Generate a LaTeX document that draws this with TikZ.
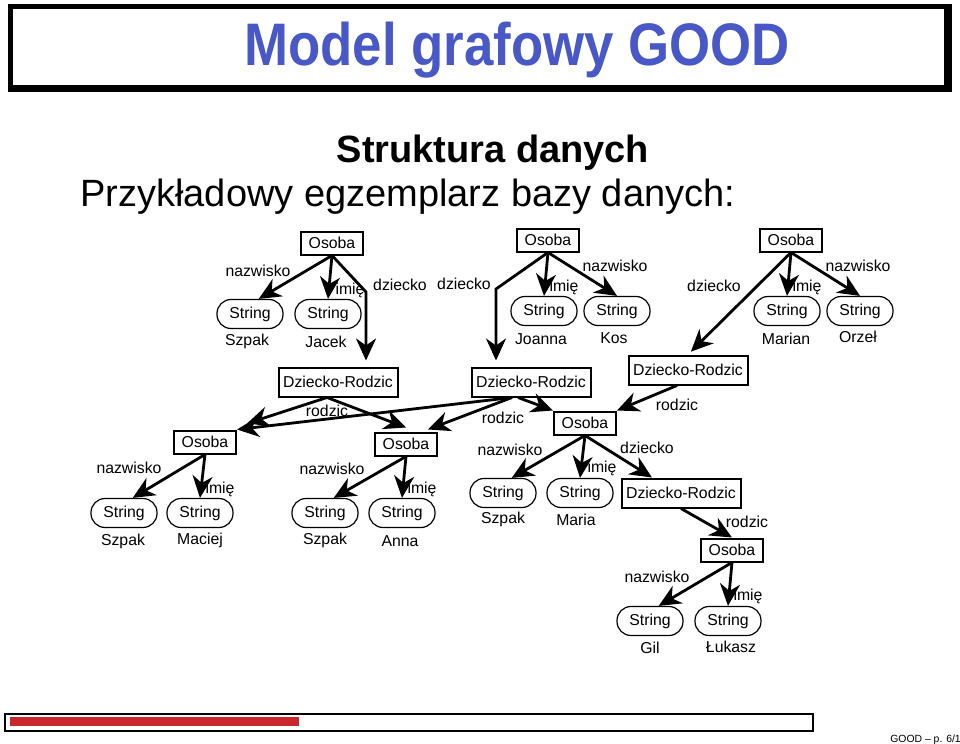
\documentclass[tikz,border=0pt]{standalone}
\usepackage{fontspec}
\setmainfont{Liberation Sans}
\usepackage{graphicx}
\usepackage{xcolor}
\usepackage{tikz}
\usetikzlibrary{arrows.meta,positioning,calc}
\definecolor{tytulblue}{RGB}{72,88,198}
\definecolor{pasekred}{RGB}{200,40,45}

\begin{document}
\begin{tikzpicture}[x=0.5pt,y=-0.5pt,
  klasa/.style={draw, line width=1pt, minimum width=31pt, minimum height=11.5pt, inner sep=1pt, font=\fontsize{7.9}{9}\selectfont},
  relacja/.style={klasa, minimum width=59.5pt, minimum height=14.5pt},
  typ/.style={draw, line width=0.6pt, rounded corners=7pt, minimum width=33pt, minimum height=14.5pt, inner sep=1pt, font=\fontsize{7.9}{9}\selectfont},
  etyk/.style={inner sep=0pt, font=\fontsize{7.9}{9}\selectfont},
  kraw/.style={line width=1.4pt, -{Stealth[length=11pt,width=10pt,inset=3.5pt]}}]
  \useasboundingbox (0,0) rectangle (960,744);

  % Title frame
  \fill[black] (8,4) rectangle (952,92);
  \fill[white] (13,9) rectangle (944,85);
  \node[anchor=base, inner sep=0pt, text=tytulblue, font=\fontsize{30}{36}\selectfont\bfseries] (tytul) at (517,65) {\scalebox{0.88}[1]{Model grafowy GOOD}};
  \node[anchor=base, inner sep=0pt, font=\fontsize{19}{23}\selectfont\bfseries] (naglowek) at (493,162) {Struktura danych};
  \node[anchor=base west, inner sep=0pt, font=\fontsize{19}{23}\selectfont] (podtytul) at (80,206) {Przykładowy egzemplarz bazy danych:};

  % Osoba (top left)
  \node[klasa] (osA) at (332,243) {Osoba};
  \node[typ] (stA1) at (250,314) {String};
  \node[typ] (stA2) at (328,314) {String};
  \node[etyk] (wA1) at (247,341) {Szpak};
  \node[etyk] (wA2) at (326,342) {Jacek};
  \node[etyk] (nA1) at (258,271) {nazwisko};
  \node[etyk] (nA2) at (350,290) {imię};
  \node[etyk] (nA3) at (400,285) {dziecko};

  % Osoba (top middle)
  \node[klasa] (osB) at (548,240) {Osoba};
  \node[typ] (stB1) at (544,311) {String};
  \node[typ] (stB2) at (617,311) {String};
  \node[etyk] (wB1) at (541,339) {Joanna};
  \node[etyk] (wB2) at (614,338) {Kos};
  \node[etyk] (nB1) at (464,284) {dziecko};
  \node[etyk] (nB2) at (564,287) {imię};
  \node[etyk] (nB3) at (615,266) {nazwisko};

  % Osoba (top right)
  \node[klasa] (osC) at (791,240) {Osoba};
  \node[typ] (stC1) at (787,311) {String};
  \node[typ] (stC2) at (860,311) {String};
  \node[etyk] (wC1) at (786,339) {Marian};
  \node[etyk] (wC2) at (858,337) {Orzeł};
  \node[etyk] (nC1) at (714,286) {dziecko};
  \node[etyk] (nC2) at (807,287) {imię};
  \node[etyk] (nC3) at (858,266) {nazwisko};

  % Dziecko-Rodzic
  \node[relacja] (drA) at (338,382) {Dziecko-Rodzic};
  \node[relacja] (drB) at (531,382) {Dziecko-Rodzic};
  \node[relacja] (drC) at (688,370) {Dziecko-Rodzic};
  \node[etyk] (rA) at (327,411) {rodzic};
  \node[etyk] (rB) at (503,418) {rodzic};
  \node[etyk] (rC) at (677,405) {rodzic};

  % Osoba (middle left)
  \node[klasa] (osD) at (205,442) {Osoba};
  \node[typ] (stD1) at (124,513) {String};
  \node[typ] (stD2) at (200,513) {String};
  \node[etyk] (wD1) at (123,541) {Szpak};
  \node[etyk] (wD2) at (200,540) {Maciej};
  \node[etyk] (nD1) at (129,468) {nazwisko};
  \node[etyk] (nD2) at (220,489) {imię};

  % Osoba (middle)
  \node[klasa] (osE) at (406,444) {Osoba};
  \node[typ] (stE1) at (325,513) {String};
  \node[typ] (stE2) at (402,513) {String};
  \node[etyk] (wE1) at (325,540) {Szpak};
  \node[etyk] (wE2) at (400,541) {Anna};
  \node[etyk] (nE1) at (332,469) {nazwisko};
  \node[etyk] (nE2) at (422,489) {imię};

  % Osoba (middle right)
  \node[klasa] (osF) at (585,423) {Osoba};
  \node[typ] (stF1) at (503,493) {String};
  \node[typ] (stF2) at (580,493) {String};
  \node[etyk] (wF1) at (503,519) {Szpak};
  \node[etyk] (wF2) at (576,520) {Maria};
  \node[etyk] (nF1) at (510,450) {nazwisko};
  \node[etyk] (nF2) at (602,468) {imię};
  \node[etyk] (nF3) at (647,448) {dziecko};
  \node[relacja] (drD) at (681,493) {Dziecko-Rodzic};
  \node[etyk] (rD) at (747,522) {rodzic};

  % Osoba (bottom)
  \node[klasa] (osG) at (732,550) {Osoba};
  \node[typ] (stG1) at (650,621) {String};
  \node[typ] (stG2) at (728,621) {String};
  \node[etyk] (wG1) at (650,648) {Gil};
  \node[etyk] (wG2) at (731,647) {Łukasz};
  \node[etyk] (nG1) at (657,577) {nazwisko};
  \node[etyk] (nG2) at (748,596) {imię};

  % bends of the dziecko edges
  \coordinate (bendA) at (366,292);
  \coordinate (bendB) at (496,289);

  % Edges
  \draw[kraw] (osA.south) -- (stA1.60);
  \draw[kraw] (osA.south) -- (stA2.north);
  \draw[kraw] (osA.south) -- (bendA) -- ([yshift=3pt]bendA |- drA.north);
  \draw[kraw] (osB.south) -- (stB1.north);
  \draw[kraw] (osB.south) -- (stB2.north);
  \draw[kraw] (osB.south) -- (bendB) -- ([yshift=3pt]bendB |- drB.north);
  \draw[kraw] (osC.south) -- (stC1.north);
  \draw[kraw] (osC.south) -- (stC2.north);
  \draw[kraw, shorten >=2pt] (osC.south) -- (drC.north);

  \draw[kraw] ([xshift=-5.5pt]drA.south) -- ([xshift=5pt,yshift=3pt]osD.north east);
  \draw[kraw] ([xshift=-5.5pt]drA.south) -- ([yshift=2pt]osE.north);
  \draw[kraw] ([xshift=-9.5pt]drB.south) -- (osD.north east);
  \draw[kraw] ([xshift=-9.5pt]drB.south) -- ([xshift=-5pt,yshift=1pt]osE.north east);
  \draw[kraw] ([xshift=-6.5pt]drB.south) -- (osF.north west);
  \draw[kraw] ([xshift=-5.5pt]drC.south) -- (osF.north east);

  \draw[kraw] (osD.south) -- (stD1.60);
  \draw[kraw] (osD.south) -- (stD2.north);
  \draw[kraw] (osE.south) -- (stE1.60);
  \draw[kraw] (osE.south) -- (stE2.north);
  \draw[kraw] (osF.south) -- (stF1.60);
  \draw[kraw] (osF.south) -- (stF2.north);
  \draw[kraw] (osF.south) -- ([xshift=-14.5pt]drD.north);
  \draw[kraw] (drD.south) -- (osG.north);
  \draw[kraw] (osG.south) -- (stG1.60);
  \draw[kraw] (osG.south) -- (stG2.north);

  % Footer
  \draw[line width=1pt] (5,714) rectangle (813,731);
  \fill[pasekred] (10,717) rectangle (299,726);
  \node[anchor=base west, inner sep=0pt, font=\fontsize{5.2}{6}\selectfont] (stopka) at (890,742) {GOOD – p. 6/1};
\end{tikzpicture}
\end{document}
